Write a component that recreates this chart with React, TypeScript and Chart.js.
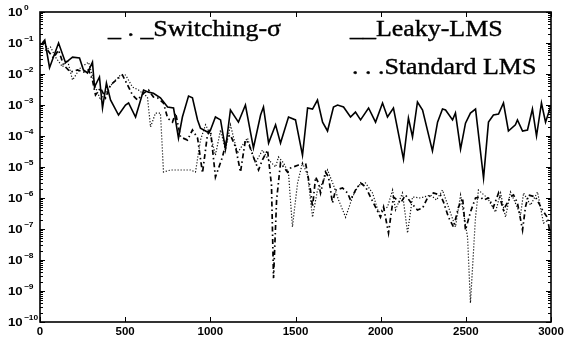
import React, { useEffect, useRef } from 'react';
import { Chart, registerables } from 'chart.js';
Chart.register(...registerables);

// Leaky-LMS (solid)
const leakyX = [13, 28, 56, 109, 150, 191, 232, 255, 279, 308, 320, 349, 367, 390, 414, 461, 502, 520, 561, 608, 637, 666, 707, 749, 784, 813, 836, 872, 895, 925, 942, 983, 1001, 1030, 1060, 1089, 1118, 1165, 1206, 1253, 1295, 1312, 1342, 1383, 1412, 1459, 1500, 1541, 1571, 1600, 1629, 1659, 1688, 1723, 1747, 1782, 1823, 1852, 1882, 1929, 1970, 2011, 2040, 2075, 2134, 2163, 2187, 2216, 2246, 2304, 2334, 2363, 2381, 2422, 2439, 2469, 2498, 2527, 2557, 2604, 2633, 2662, 2692, 2721, 2750, 2791, 2803, 2833, 2862, 2891, 2915, 2944, 2968, 2997];
const leakyY = [1.0e-1, 1.25e-1, 1.6e-2, 1.0e-1, 2.3e-2, 3.5e-2, 3.3e-2, 1.35e-2, 1.08e-2, 2.4e-2, 3.8e-3, 8.0e-3, 8.0e-4, 5.1e-3, 1.45e-3, 4.75e-4, 1.0e-3, 1.16e-3, 4.1e-4, 3.05e-3, 2.6e-3, 2.4e-3, 1.7e-3, 8.6e-4, 8.0e-4, 8.6e-5, 4.1e-4, 1.95e-3, 1.7e-3, 3.3e-4, 1.8e-4, 1.35e-4, 1.56e-4, 4.1e-4, 3.3e-4, 3.8e-5, 6.9e-4, 2.8e-4, 1.0e-3, 4.1e-5, 4.75e-4, 8.6e-4, 5.9e-5, 2.3e-4, 5.9e-5, 4.1e-4, 3.3e-4, 2.4e-5, 8.0e-4, 7.4e-4, 1.45e-3, 2.8e-4, 1.45e-4, 8.6e-4, 1.0e-3, 8.6e-4, 4.1e-4, 5.9e-4, 3.3e-4, 8.0e-4, 2.8e-4, 1.16e-3, 4.1e-4, 8.0e-4, 1.8e-5, 3.8e-4, 9.3e-5, 1.25e-3, 6.9e-4, 3.3e-5, 2.8e-4, 7.4e-4, 6.9e-4, 3.3e-4, 5.5e-4, 3.8e-5, 2.6e-4, 5.5e-4, 7.4e-4, 4.4e-6, 2.8e-4, 4.75e-4, 5.1e-4, 1.16e-3, 1.45e-4, 2.3e-4, 3.3e-4, 1.45e-4, 1.56e-4, 7.4e-4, 1.0e-4, 1.16e-3, 2.8e-4, 8.6e-4];

// Switching-sigma (dash-dot)
const switchX = [15, 26, 44, 79, 109, 138, 179, 220, 255, 285, 308, 326, 355, 385, 414, 461, 484, 514, 543, 572, 608, 637, 666, 690, 725, 749, 778, 796, 825, 866, 895, 925, 954, 983, 1001, 1030, 1071, 1101, 1118, 1148, 1177, 1206, 1224, 1253, 1283, 1306, 1336, 1359, 1371, 1389, 1412, 1453, 1471, 1518, 1559, 1588, 1600, 1618, 1635, 1647, 1676, 1694, 1717, 1735, 1776, 1806, 1823, 1852, 1882, 1911, 1940, 1970, 1999, 2017, 2046, 2075, 2117, 2146, 2175, 2216, 2246, 2275, 2310, 2351, 2369, 2398, 2428, 2457, 2481, 2498, 2527, 2557, 2586, 2604, 2633, 2662, 2692, 2721, 2762, 2780, 2803, 2833, 2850, 2868, 2909, 2950, 2980, 2997];
const switchY = [8.6e-2, 1.08e-1, 5.9e-2, 3.3e-2, 5.9e-2, 1.95e-2, 1.16e-2, 1.35e-2, 1.16e-2, 1.35e-2, 6.4e-3, 2.1e-3, 3.5e-3, 1.7e-3, 4.4e-3, 7.4e-3, 9.3e-3, 4.4e-3, 2.1e-3, 1.45e-3, 2.4e-3, 3.05e-3, 1.8e-3, 1.7e-3, 1.16e-3, 3.8e-4, 2.8e-4, 5.5e-4, 9.3e-5, 7.4e-5, 1.56e-4, 8.6e-5, 6.4e-6, 1.08e-4, 1.56e-4, 4.75e-6, 2.1e-5, 9.3e-5, 1.08e-4, 4.4e-5, 6.9e-6, 7.4e-5, 5.9e-5, 2.1e-5, 8.0e-6, 1.7e-5, 3.5e-5, 2.6e-6, 2.6e-9, 8.6e-7, 1.35e-5, 6.9e-6, 9.3e-6, 1.16e-5, 1.35e-5, 1.8e-6, 5.1e-7, 4.75e-6, 3.05e-6, 1.45e-6, 6.9e-6, 4.75e-6, 6.9e-7, 1.8e-6, 2.1e-6, 1.45e-6, 8.6e-7, 1.8e-6, 3.05e-6, 2.3e-6, 1.08e-6, 5.1e-7, 2.4e-7, 5.1e-7, 7.4e-8, 1.08e-6, 6.9e-7, 1.25e-6, 7.4e-7, 4.1e-7, 4.75e-7, 1.0e-6, 1.45e-6, 1.25e-6, 7.4e-7, 2.4e-7, 1.16e-7, 5.1e-7, 1.0e-6, 9.3e-8, 3.5e-7, 1.0e-6, 1.08e-6, 8.6e-7, 1.0e-6, 5.1e-7, 1.45e-6, 4.1e-7, 1.08e-6, 1.25e-6, 6.9e-7, 9.3e-8, 5.1e-7, 1.25e-6, 1.08e-6, 4.1e-7, 2.3e-7, 5.5e-8];

// Standard LMS (dotted)
const standardX = [15, 32, 62, 91, 132, 161, 191, 238, 285, 326, 355, 396, 432, 473, 502, 543, 578, 631, 649, 678, 707, 725, 766, 825, 884, 913, 942, 972, 1001, 1030, 1060, 1089, 1118, 1159, 1189, 1218, 1265, 1306, 1342, 1383, 1400, 1430, 1459, 1482, 1512, 1541, 1571, 1600, 1629, 1659, 1688, 1723, 1753, 1794, 1835, 1870, 1911, 1952, 1987, 2040, 2070, 2087, 2128, 2158, 2187, 2234, 2293, 2328, 2363, 2398, 2439, 2469, 2510, 2527, 2557, 2574, 2627, 2674, 2704, 2733, 2762, 2791, 2821, 2839, 2880, 2921, 2956, 2985];
const standardY = [6.9e-2, 5.9e-2, 7.4e-2, 3.5e-2, 1.7e-2, 2.8e-2, 6.4e-3, 1.6e-2, 2.4e-2, 3.8e-3, 1.45e-3, 3.05e-3, 5.5e-3, 9.3e-3, 9.3e-3, 3.8e-3, 3.05e-3, 1.8e-3, 1.95e-4, 5.5e-4, 5.5e-4, 6.9e-6, 8.0e-6, 8.0e-6, 8.0e-6, 6.9e-6, 7.4e-5, 2.3e-4, 1.08e-4, 2.4e-5, 1.56e-4, 3.5e-5, 2.3e-4, 2.8e-5, 5.1e-5, 8.6e-5, 1.35e-5, 3.5e-5, 1.7e-5, 1.0e-5, 2.1e-5, 1.35e-5, 6.4e-6, 1.16e-7, 3.05e-6, 1.35e-5, 5.5e-6, 2.4e-7, 1.8e-6, 3.05e-6, 8.0e-6, 2.6e-6, 8.6e-7, 2.4e-7, 1.08e-6, 2.6e-6, 3.05e-6, 1.45e-6, 3.5e-7, 5.1e-7, 1.8e-6, 4.1e-7, 1.45e-6, 7.4e-8, 1.08e-6, 1.0e-6, 1.25e-6, 8.6e-7, 1.8e-6, 5.1e-7, 1.16e-7, 1.25e-6, 5.5e-8, 4.1e-10, 2.4e-7, 1.8e-6, 1.0e-6, 3.5e-7, 1.45e-6, 2.4e-7, 1.56e-6, 6.9e-7, 2.8e-7, 1.45e-6, 5.9e-7, 1.56e-6, 1.56e-7, 1.95e-7];

const xTicks = [0, 500, 1000, 1500, 2000, 2500, 3000];
const yTickExponents = [0, -1, -2, -3, -4, -5, -6, -7, -8, -9, -10];
const legendMarkers = ['_ . _', '__', '. . .'];
const legendLabels = ['Switching-σ', 'Leaky-LMS', 'Standard LMS'];

const decoPlugin = {
  id: 'deco',
  afterDraw(chart: any) {
    const ctx = chart.ctx as CanvasRenderingContext2D;
    const { left, right, top, bottom } = chart.chartArea;
    const xs = chart.scales.x;
    const ys = chart.scales.y;
    ctx.save();
    ctx.strokeStyle = '#000';
    ctx.fillStyle = '#000';
    ctx.lineWidth = 1.6;
    ctx.strokeRect(left, top, right - left, bottom - top);
    ctx.lineWidth = 1;
    ctx.beginPath();
    for (let e = -10; e <= 0; e++) {
      for (let m = 1; m <= 9; m++) {
        if (e === 0 && m > 1) break;
        const v = m * Math.pow(10, e);
        const y = Math.round(ys.getPixelForValue(v)) + 0.5;
        const len = m === 1 ? 5 : 3;
        ctx.moveTo(left, y); ctx.lineTo(left + len, y);
        ctx.moveTo(right, y); ctx.lineTo(right - len, y);
      }
    }
    for (const t of xTicks) {
      const x = Math.round(xs.getPixelForValue(t)) + 0.5;
      ctx.moveTo(x, bottom); ctx.lineTo(x, bottom - 5);
      ctx.moveTo(x, top); ctx.lineTo(x, top + 5);
    }
    ctx.stroke();

    ctx.textBaseline = 'middle';
    for (const e of yTickExponents) {
      const y = ys.getPixelForValue(Math.pow(10, e));
      ctx.save();
      ctx.translate(8, y + 1);
      ctx.scale(1.2, 1);
      ctx.textAlign = 'left';
      ctx.font = 'bold 11px "Liberation Sans", Arial, sans-serif';
      ctx.fillText('10', 0, 0);
      const w = ctx.measureText('10').width;
      ctx.font = 'bold 7px "Liberation Sans", Arial, sans-serif';
      ctx.fillText(e === 0 ? '0' : '\u2212' + String(-e), w + 1, -5);
      ctx.restore();
    }
    ctx.textAlign = 'center';
    ctx.font = 'bold 11.5px "Liberation Sans", Arial, sans-serif';
    for (const t of xTicks) {
      const x = xs.getPixelForValue(t);
      ctx.fillText(String(t), x, 332);
    }

    ctx.textBaseline = 'alphabetic';
    ctx.textAlign = 'left';
    ctx.font = '24px "Liberation Serif", "Times New Roman", serif';
    ctx.lineWidth = 0.4;
    const pos = [[108, 36], [350, 36], [352, 74]];
    legendLabels.forEach((lab, i) => {
      ctx.save();
      ctx.translate(pos[i][0], pos[i][1]);
      ctx.scale(1.08, 1);
      ctx.fillText(legendMarkers[i] + lab, 0, 0);
      ctx.strokeText(legendMarkers[i] + lab, 0, 0);
      ctx.restore();
    });
    ctx.restore();
  },
};

export default function App() {
  const ref = useRef<HTMLCanvasElement | null>(null);
  useEffect(() => {
    if (!ref.current) return;
    const toPts = (xa: number[], ya: number[]) => xa.map((x, i) => ({ x, y: ya[i] }));
    const chart = new Chart(ref.current, {
      type: 'line',
      data: {
        datasets: [
          {
            label: legendLabels[0],
            data: toPts(switchX, switchY),
            borderColor: '#000',
            borderWidth: 1.7,
            borderDash: [5, 3, 1.5, 3],
            pointRadius: 0,
            tension: 0,
          },
          {
            label: legendLabels[1],
            data: toPts(leakyX, leakyY),
            borderColor: '#000',
            borderWidth: 1.6,
            pointRadius: 0,
            tension: 0,
          },
          {
            label: legendLabels[2],
            data: toPts(standardX, standardY),
            borderColor: '#111',
            borderWidth: 1.2,
            borderDash: [1.2, 1.8],
            pointRadius: 0,
            tension: 0,
          },
        ],
      },
      options: {
        responsive: false,
        animation: false,
        parsing: false as any,
        layout: { padding: { left: 40, right: 13, top: 12, bottom: 17 } },
        plugins: { legend: { display: false }, tooltip: { enabled: false } },
        scales: {
          x: { type: 'linear', min: 0, max: 3000, display: false },
          y: { type: 'logarithmic', min: 1e-10, max: 1, display: false },
        },
      },
      plugins: [decoPlugin],
    });
    return () => chart.destroy();
  }, []);
  return (
    <div style={{ position: 'absolute', left: 0, top: 0, width: 564, height: 339, background: '#fff' }}>
      <canvas ref={ref} width={564} height={339} />
    </div>
  );
}
